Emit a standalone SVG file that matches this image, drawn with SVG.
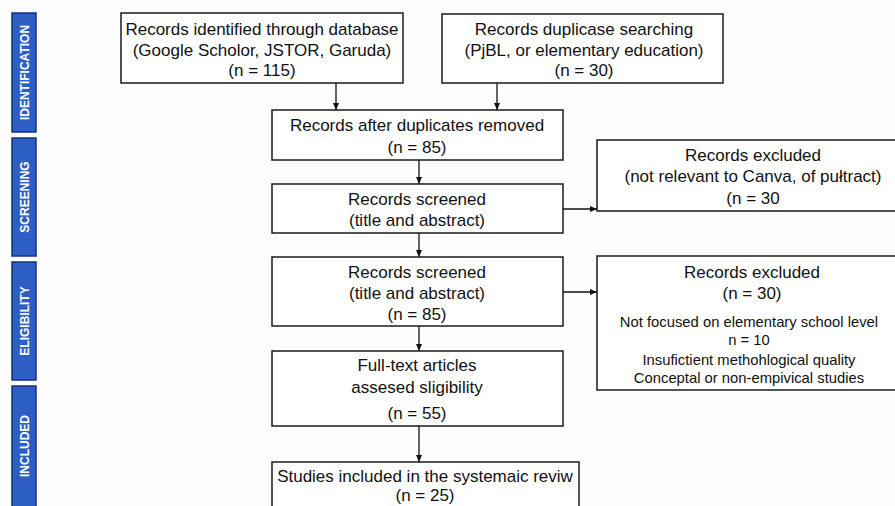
<svg xmlns="http://www.w3.org/2000/svg" width="895" height="506" viewBox="0 0 895 506">
<defs>
<marker id="ah" markerUnits="userSpaceOnUse" markerWidth="7" markerHeight="6" refX="7" refY="3" orient="auto">
<path d="M0,0 L7,3 L0,6 z" fill="#111"/>
</marker>
</defs>
<style>
.box{fill:#fff;stroke:#1a1a1a;stroke-width:1.5}
.t{font-family:"Liberation Sans",Arial,sans-serif;font-size:17px;fill:#111;text-anchor:middle}
.s{font-family:"Liberation Sans",Arial,sans-serif;font-size:14.8px;fill:#111;text-anchor:middle}
.bar{fill:#2c5ec3;stroke:#15337a;stroke-width:1.5}
.bt{font-family:"Liberation Sans",Arial,sans-serif;font-size:12px;font-weight:bold;fill:#fff;text-anchor:middle}
.c{stroke:#111;stroke-width:1.3;fill:none;marker-end:url(#ah)}
</style>
<rect width="895" height="506" fill="#fdfdfd"/>
<g id="phase-identification"><rect class="bar" x="12" y="13" width="24" height="119"/><text class="bt" transform="translate(28.5,72.5) rotate(-90)">IDENTIFICATION</text></g>
<g id="phase-screening"><rect class="bar" x="12" y="138" width="24" height="118"/><text class="bt" transform="translate(28.5,197) rotate(-90)">SCREENING</text></g>
<g id="phase-eligibility"><rect class="bar" x="12" y="262" width="24" height="118"/><text class="bt" transform="translate(28.5,321) rotate(-90)">ELIGIBILITY</text></g>
<g id="phase-included"><rect class="bar" x="12" y="386" width="24" height="125"/><text class="bt" transform="translate(28.5,446) rotate(-90)">INCLUDED</text></g>

<g id="connectors">
<line class="c" x1="336" y1="83" x2="336" y2="110"/>
<line class="c" x1="497" y1="83" x2="497" y2="110"/>
<line class="c" x1="419" y1="160" x2="419" y2="184"/>
<line class="c" x1="563" y1="209" x2="597" y2="209"/>
<line class="c" x1="419" y1="233" x2="419" y2="257"/>
<line class="c" x1="563" y1="292" x2="597" y2="292"/>
<line class="c" x1="419" y1="326" x2="419" y2="351"/>
<line class="c" x1="419" y1="426" x2="419" y2="462"/>
</g>

<g id="n-identified"><rect class="box" x="121" y="13" width="282" height="70"/>
<text class="t" x="262" y="35">Records identified through database</text>
<text class="t" x="262" y="56">(Google Scholor, JSTOR, Garuda)</text>
<text class="t" x="262" y="76">(n = 115)</text></g>

<g id="n-duplicase"><rect class="box" x="442" y="14" width="281" height="69"/>
<text class="t" x="584" y="35">Records duplicase searching</text>
<text class="t" x="584" y="56">(PjBL, or elementary education)</text>
<text class="t" x="584" y="76">(n = 30)</text></g>

<g id="n-after-dup"><rect class="box" x="272" y="110" width="291" height="50"/>
<text class="t" x="417" y="131">Records after duplicates removed</text>
<text class="t" x="417" y="153">(n = 85)</text></g>

<g id="n-screened1"><rect class="box" x="272" y="184" width="291" height="49"/>
<text class="t" x="417" y="205">Records screened</text>
<text class="t" x="417" y="226">(title and abstract)</text></g>

<g id="n-excluded1"><rect class="box" x="597" y="140" width="315" height="71"/>
<text class="t" x="753" y="161">Records excluded</text>
<text class="t" x="753" y="182">(not relevant to Canva, of pułtract)</text>
<text class="t" x="753" y="204">(n = 30</text></g>

<g id="n-screened2"><rect class="box" x="272" y="257" width="291" height="69"/>
<text class="t" x="417" y="278">Records screened</text>
<text class="t" x="417" y="299">(title and abstract)</text>
<text class="t" x="417" y="320">(n = 85)</text></g>

<g id="n-excluded2"><rect class="box" x="597" y="256" width="315" height="134"/>
<text class="t" x="752" y="278">Records excluded</text>
<text class="t" x="752" y="299">(n = 30)</text>
<text class="s" x="749" y="327">Not focused on elementary school level</text>
<text class="s" x="749" y="345">n = 10</text>
<text class="s" x="749" y="365">Insufictient methohlogical quality</text>
<text class="s" x="749" y="383">Conceptal or non-empivical studies</text></g>

<g id="n-fulltext"><rect class="box" x="272" y="351" width="291" height="75"/>
<text class="t" x="417" y="371">Full-text articles</text>
<text class="t" x="417" y="393">assesed sligibility</text>
<text class="t" x="417" y="419">(n = 55)</text></g>

<g id="n-included"><rect class="box" x="272" y="462" width="307" height="60"/>
<text class="t" x="425" y="482">Studies included in the systemaic reviw</text>
<text class="t" x="425" y="501">(n = 25)</text></g>
</svg>
